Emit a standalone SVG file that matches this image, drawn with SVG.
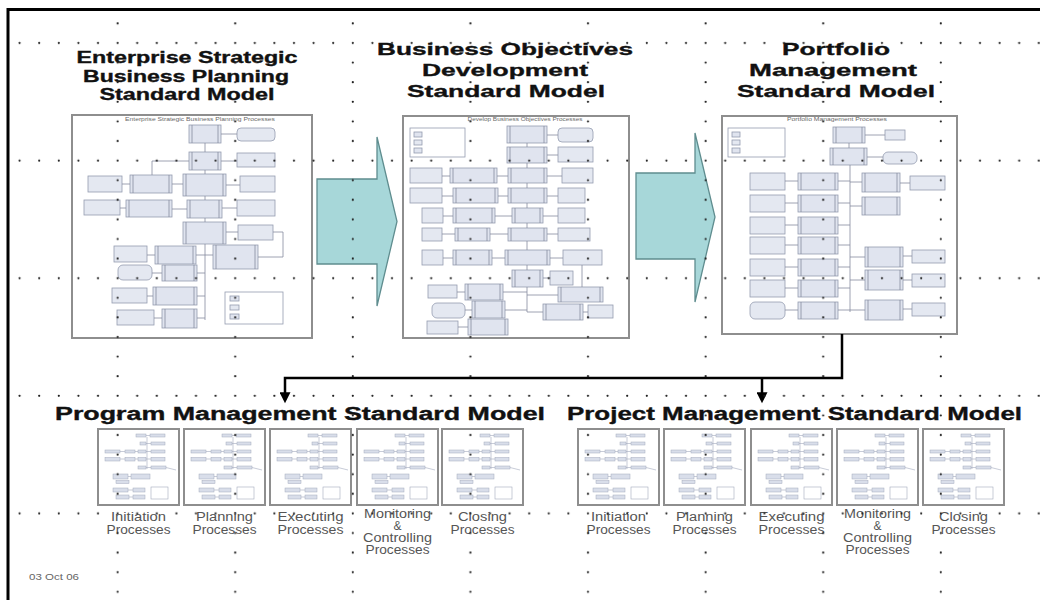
<svg xmlns="http://www.w3.org/2000/svg" xmlns:xlink="http://www.w3.org/1999/xlink" width="1040" height="600" viewBox="0 0 1040 600">
  <defs>
    <style>
      .ttl { font-family: "Liberation Sans", Arial, Helvetica, sans-serif; font-weight: bold; fill: #111; stroke: #111; stroke-width: 0.35; }
      .mid { text-anchor: middle; }
      .lbl { font-family: "Liberation Sans", Arial, Helvetica, sans-serif; font-size: 12px; fill: #555; text-anchor: middle; }
      .cap { font-family: "Liberation Sans", Arial, Helvetica, sans-serif; font-size: 4.6px; fill: #6a6a6a; text-anchor: middle; }
      .date { font-family: "Liberation Sans", Arial, Helvetica, sans-serif; font-size: 9px; fill: #666; }
      .page { fill: #fff; stroke: #8e8e8e; stroke-width: 2; }
      .pr { fill: #e0e4ef; stroke: #949cb0; stroke-width: 0.8; }
      .dt { fill: #e4e8f1; stroke: #949cb0; stroke-width: 0.8; }
      .ln { fill: none; stroke: #858c9e; stroke-width: 0.8; }
      .mp { fill: #d9deea; stroke: #a3aabd; stroke-width: 0.5; }
      .ml { fill: none; stroke: #a3aabd; stroke-width: 0.6; }
      .flow { fill: #a7d7d9; stroke: #5f8d8f; stroke-width: 1.3; }
      .conn { fill: none; stroke: #000; stroke-width: 2.5; }
      .frame { fill: none; stroke: #000; stroke-width: 3; }
      .dot { fill: #1c1c1c; }
    </style>

    <marker id="arrowhead" viewBox="0 0 10 10" refX="7" refY="5" markerWidth="13" markerHeight="11" markerUnits="userSpaceOnUse" orient="auto">
      <path d="M0,0 L10,5 L0,10 z" fill="#000"/>
    </marker>

    <!-- dotted guide grid: rows every 117.6 px starting at y=43, columns every 117.6 px -->
    <pattern id="grid" x="-9.8" y="33.2" width="117.6" height="117.6" patternUnits="userSpaceOnUse">
      <circle class="dot" cx="9.8" cy="9.8" r="1.1"/>
      <circle class="dot" cx="29.4" cy="9.8" r="1.1"/>
      <circle class="dot" cx="49" cy="9.8" r="1.1"/>
      <circle class="dot" cx="68.6" cy="9.8" r="1.1"/>
      <circle class="dot" cx="88.2" cy="9.8" r="1.1"/>
      <circle class="dot" cx="107.8" cy="9.8" r="1.1"/>
      <circle class="dot" cx="9.8" cy="29.4" r="1.1"/>
      <circle class="dot" cx="9.8" cy="49" r="1.1"/>
      <circle class="dot" cx="9.8" cy="68.6" r="1.1"/>
      <circle class="dot" cx="9.8" cy="88.2" r="1.1"/>
      <circle class="dot" cx="9.8" cy="107.8" r="1.1"/>
    </pattern>

    <!-- miniature process-group page used in the lower rows -->
    <symbol id="mini" viewBox="0 0 81 76">
      <g class="mp">
        <rect x="38" y="5" width="10" height="3"/>
        <rect x="52" y="5" width="15" height="3"/>
        <rect x="42" y="13" width="6" height="3"/>
        <rect x="53" y="13" width="14" height="3"/>
        <rect x="7" y="21" width="15" height="3"/>
        <rect x="27" y="21" width="10" height="3"/>
        <rect x="40" y="21" width="8" height="3"/>
        <rect x="53" y="21" width="14" height="3"/>
        <rect x="7" y="28.5" width="15" height="3.5"/>
        <rect x="27" y="28.5" width="10" height="3.5"/>
        <rect x="40" y="28.5" width="8" height="3.5"/>
        <rect x="53" y="28.5" width="14" height="3.5"/>
        <rect x="40" y="37" width="8" height="3"/>
        <rect x="53" y="37" width="15" height="3"/>
        <rect x="15" y="45" width="15" height="5"/>
        <rect x="33" y="45" width="19" height="5"/>
        <rect x="18" y="51.5" width="13" height="3"/>
        <rect x="15" y="59" width="15" height="4"/>
        <rect x="35" y="59" width="12" height="4"/>
        <rect x="18" y="66" width="13" height="4"/>
        <rect x="35" y="66" width="12" height="4"/>
      </g>
      <path class="ml" d="M49,8 V40 M48,6.5 H52 M48,14.5 H53 M22,22.5 H27 M37,22.5 H40 M48,22.5 H53 M22,30 H27 M37,30 H40 M48,30 H53 M48,38.5 H53 M68,38.5 L78,41 M30,47.5 H33 M30,61 H35 M31,68 H35"/>
      <rect x="53" y="58" width="17" height="12" fill="none" stroke="#a3aabd" stroke-width="0.6"/>
    </symbol>
  </defs>

  <rect width="1040" height="600" fill="#fff"/>

  <!-- slide frame -->
  <path class="frame" d="M8,602 V9.5 H1042"/>

  <!-- ===== Enterprise Strategic Business Planning ===== -->
  <g id="enterprise-model">
    <text class="ttl mid" x="187" y="63" font-size="16" textLength="221" lengthAdjust="spacingAndGlyphs">Enterprise Strategic</text>
    <text class="ttl mid" x="186" y="82" font-size="16" textLength="206" lengthAdjust="spacingAndGlyphs">Business Planning</text>
    <text class="ttl mid" x="187" y="100" font-size="16" textLength="175" lengthAdjust="spacingAndGlyphs">Standard Model</text>
    <rect class="page" x="72" y="115" width="240" height="223"/>
    <text class="cap" x="200" y="121" textLength="150" lengthAdjust="spacingAndGlyphs">Enterprise Strategic Business Planning Processes</text>
    <g>
      <rect class="dt" x="237" y="128" width="38" height="13" rx="4"/>
      <rect class="dt" x="237" y="153" width="38" height="14"/>
      <rect class="dt" x="88" y="176" width="34" height="16"/>
      <rect class="dt" x="240" y="176" width="35" height="16"/>
      <rect class="dt" x="84" y="200" width="36" height="15"/>
      <rect class="dt" x="237" y="200" width="38" height="16"/>
      <rect class="dt" x="238" y="225" width="35" height="15"/>
      <rect class="dt" x="114" y="246" width="33" height="16"/>
      <rect class="dt" x="118" y="265" width="34" height="15" rx="5"/>
      <rect class="dt" x="112" y="288" width="35" height="15"/>
      <rect class="dt" x="117" y="310" width="37" height="15"/>
      <rect class="pr" x="189" y="125" width="32" height="18"/>
      <rect class="pr" x="189" y="152" width="32" height="18"/>
      <rect class="pr" x="130" y="175" width="42" height="18"/>
      <rect class="pr" x="183" y="174" width="43" height="22"/>
      <rect class="pr" x="126" y="200" width="46" height="17"/>
      <rect class="pr" x="187" y="200" width="35" height="18"/>
      <rect class="pr" x="183" y="222" width="43" height="22"/>
      <rect class="pr" x="155" y="246" width="41" height="18"/>
      <rect class="pr" x="213" y="245" width="45" height="24"/>
      <rect class="pr" x="162" y="265" width="35" height="16"/>
      <rect class="pr" x="153" y="287" width="44" height="18"/>
      <rect class="pr" x="162" y="309" width="35" height="19"/>
      <path class="ln" d="M192,125 v18 M218,125 v18 M192,152 v18 M218,152 v18 M133,175 v18 M169,175 v18 M186,174 v22 M223,174 v22 M129,200 v17 M169,200 v17 M190,200 v18 M219,200 v18 M186,222 v22 M223,222 v22 M158,246 v18 M193,246 v18 M216,245 v24 M255,245 v24 M165,265 v16 M194,265 v16 M156,287 v18 M194,287 v18 M165,309 v19 M194,309 v19"/>
      <path class="ln" d="M205,143 V152 M205,170 V174 M205,196 V200 M205,218 V222 M205,244 V320 M221,134 H237 M221,161 H237 M189,161 H152 V175 M122,184 H130 M172,184 H183 M226,185 H240 M120,208 H126 M172,209 H187 M222,208 H237 M226,232 H238 M273,232 H283 V257 H258 M147,255 H155 M196,255 H213 M152,273 H162 M197,273 H205 M147,296 H153 M197,296 H205 M154,318 H162 M197,318 H205"/>
      <rect x="225" y="292" width="58" height="32" fill="#fff" stroke="#949cb0" stroke-width="0.8"/>
      <rect class="pr" x="230" y="296" width="9" height="5"/>
      <rect class="dt" x="230" y="305" width="9" height="5"/>
      <rect class="pr" x="230" y="314" width="9" height="5"/>
    </g>
  </g>

  <!-- ===== Business Objectives Development ===== -->
  <g id="objectives-model">
    <text class="ttl mid" x="505" y="55" font-size="17" textLength="256" lengthAdjust="spacingAndGlyphs">Business Objectives</text>
    <text class="ttl mid" x="505" y="76" font-size="17" textLength="166" lengthAdjust="spacingAndGlyphs">Development</text>
    <text class="ttl mid" x="506" y="97" font-size="17" textLength="198" lengthAdjust="spacingAndGlyphs">Standard Model</text>
    <rect class="page" x="403" y="116" width="226" height="222"/>
    <text class="cap" x="525" y="121" textLength="115" lengthAdjust="spacingAndGlyphs">Develop Business Objectives Processes</text>
    <g>
      <rect x="410" y="128" width="55" height="29" fill="#fff" stroke="#949cb0" stroke-width="0.8"/>
      <rect class="pr" x="414" y="132" width="8" height="5"/>
      <rect class="dt" x="414" y="140" width="8" height="5"/>
      <rect class="pr" x="414" y="148" width="8" height="5"/>
      <rect class="dt" x="558" y="128" width="35" height="14" rx="4"/>
      <rect class="dt" x="558" y="147" width="35" height="15"/>
      <rect class="dt" x="410" y="168" width="32" height="15"/>
      <rect class="dt" x="562" y="168" width="31" height="15"/>
      <rect class="dt" x="410" y="188" width="32" height="15"/>
      <rect class="dt" x="558" y="188" width="27" height="15"/>
      <rect class="dt" x="422" y="208" width="21" height="15"/>
      <rect class="dt" x="558" y="208" width="27" height="15"/>
      <rect class="dt" x="422" y="228" width="20" height="13"/>
      <rect class="dt" x="558" y="228" width="32" height="13"/>
      <rect class="dt" x="422" y="250" width="21" height="15"/>
      <rect class="dt" x="563" y="250" width="39" height="15"/>
      <rect class="dt" x="550" y="271" width="23" height="14"/>
      <rect class="dt" x="428" y="285" width="29" height="13"/>
      <rect class="dt" x="432" y="303" width="33" height="15" rx="5"/>
      <rect class="dt" x="588" y="305" width="25" height="13"/>
      <rect class="dt" x="427" y="321" width="31" height="13"/>
      <rect class="pr" x="507" y="126" width="40" height="17"/>
      <rect class="pr" x="507" y="147" width="40" height="16"/>
      <rect class="pr" x="450" y="168" width="47" height="15"/>
      <rect class="pr" x="508" y="168" width="39" height="15"/>
      <rect class="pr" x="453" y="188" width="45" height="15"/>
      <rect class="pr" x="508" y="188" width="39" height="15"/>
      <rect class="pr" x="453" y="208" width="42" height="15"/>
      <rect class="pr" x="512" y="208" width="31" height="15"/>
      <rect class="pr" x="455" y="228" width="35" height="13"/>
      <rect class="pr" x="508" y="228" width="39" height="13"/>
      <rect class="pr" x="453" y="250" width="39" height="15"/>
      <rect class="pr" x="505" y="250" width="45" height="15"/>
      <rect class="pr" x="512" y="270" width="31" height="17"/>
      <rect class="pr" x="465" y="284" width="38" height="16"/>
      <rect class="pr" x="472" y="301" width="33" height="17"/>
      <rect class="pr" x="468" y="319" width="40" height="16"/>
      <rect class="pr" x="558" y="287" width="45" height="15"/>
      <rect class="pr" x="543" y="304" width="40" height="16"/>
      <path class="ln" d="M510,126 v17 M544,126 v17 M510,147 v16 M544,147 v16 M453,168 v15 M494,168 v15 M511,168 v15 M544,168 v15 M456,188 v15 M495,188 v15 M511,188 v15 M544,188 v15 M456,208 v15 M492,208 v15 M515,208 v15 M540,208 v15 M458,228 v13 M487,228 v13 M511,228 v13 M544,228 v13 M456,250 v15 M489,250 v15 M508,250 v15 M547,250 v15 M515,270 v17 M540,270 v17 M468,284 v16 M500,284 v16 M475,301 v17 M502,301 v17 M471,319 v16 M505,319 v16 M561,287 v15 M600,287 v15 M546,304 v16 M580,304 v16"/>
      <path class="ln" d="M527,143 V147 M527,163 V168 M527,183 V188 M527,203 V208 M527,223 V228 M527,241 V250 M527,265 V270 M527,287 V312 M547,135 H558 M547,155 H558 M547,176 H562 M547,196 H558 M543,216 H558 M547,234 H558 M550,258 H563 M543,278 H550 M442,176 H450 M442,196 H453 M443,216 H453 M442,234 H455 M443,258 H453 M497,176 H508 M498,196 H508 M495,216 H512 M490,234 H508 M492,258 H505 M457,292 H465 M465,310 H472 M458,327 H468 M503,292 H527 M505,310 H527 M527,295 H558 M527,312 H543 M583,312 H588 M582,265 V287"/>
    </g>
  </g>

  <!-- ===== Portfolio Management ===== -->
  <g id="portfolio-model">
    <text class="ttl mid" x="836" y="55" font-size="17" textLength="108" lengthAdjust="spacingAndGlyphs">Portfolio</text>
    <text class="ttl mid" x="833" y="76" font-size="17" textLength="168" lengthAdjust="spacingAndGlyphs">Management</text>
    <text class="ttl mid" x="836" y="97" font-size="17" textLength="198" lengthAdjust="spacingAndGlyphs">Standard Model</text>
    <rect class="page" x="722" y="116" width="235" height="218"/>
    <text class="cap" x="837" y="121" textLength="100" lengthAdjust="spacingAndGlyphs">Portfolio Management Processes</text>
    <g>
      <rect x="728" y="128" width="57" height="29" fill="#fff" stroke="#949cb0" stroke-width="0.8"/>
      <rect class="pr" x="732" y="132" width="8" height="5"/>
      <rect class="dt" x="732" y="140" width="8" height="5"/>
      <rect class="pr" x="732" y="148" width="8" height="5"/>
      <rect class="dt" x="885" y="130" width="20" height="10"/>
      <rect class="dt" x="883" y="152" width="34" height="12" rx="5"/>
      <rect class="dt" x="750" y="173" width="35" height="17"/>
      <rect class="dt" x="750" y="195" width="35" height="17"/>
      <rect class="dt" x="750" y="217" width="35" height="17"/>
      <rect class="dt" x="750" y="237" width="35" height="17"/>
      <rect class="dt" x="750" y="259" width="35" height="17"/>
      <rect class="dt" x="750" y="280" width="35" height="17"/>
      <rect class="dt" x="750" y="302" width="35" height="17" rx="5"/>
      <rect class="dt" x="910" y="176" width="35" height="14"/>
      <rect class="dt" x="912" y="250" width="33" height="13"/>
      <rect class="dt" x="912" y="274" width="33" height="13"/>
      <rect class="dt" x="912" y="303" width="33" height="13"/>
      <rect class="pr" x="833" y="127" width="32" height="16"/>
      <rect class="pr" x="830" y="148" width="37" height="17"/>
      <rect class="pr" x="798" y="173" width="40" height="17"/>
      <rect class="pr" x="798" y="195" width="40" height="17"/>
      <rect class="pr" x="798" y="217" width="40" height="17"/>
      <rect class="pr" x="798" y="237" width="40" height="17"/>
      <rect class="pr" x="798" y="259" width="40" height="17"/>
      <rect class="pr" x="798" y="280" width="40" height="17"/>
      <rect class="pr" x="798" y="302" width="40" height="17"/>
      <rect class="pr" x="862" y="173" width="38" height="19"/>
      <rect class="pr" x="862" y="197" width="38" height="18"/>
      <rect class="pr" x="865" y="247" width="38" height="20"/>
      <rect class="pr" x="865" y="270" width="38" height="20"/>
      <rect class="pr" x="865" y="300" width="38" height="20"/>
      <path class="ln" d="M836,127 v16 M862,127 v16 M833,148 v17 M864,148 v17 M801,173 v17 M835,173 v17 M801,195 v17 M835,195 v17 M801,217 v17 M835,217 v17 M801,237 v17 M835,237 v17 M801,259 v17 M835,259 v17 M801,280 v17 M835,280 v17 M801,302 v17 M835,302 v17 M865,173 v19 M897,173 v19 M865,197 v18 M897,197 v18 M868,247 v20 M900,247 v20 M868,270 v20 M900,270 v20 M868,300 v20 M900,300 v20"/>
      <path class="ln" d="M849,143 V148 M850,165 V312 M865,135 H885 M867,157 H883 M785,181 H798 M785,203 H798 M785,225 H798 M785,245 H798 M785,267 H798 M785,288 H798 M785,310 H798 M838,181 H850 M838,203 H850 M838,225 H850 M838,245 H850 M838,267 H850 M838,288 H850 M838,310 H850 M850,182 H862 M850,206 H862 M850,257 H865 M850,280 H865 M850,310 H865 M900,183 H910 M903,256 H912 M903,280 H912 M903,309 H912"/>
    </g>
  </g>

  <!-- ===== flow arrows between the upper models ===== -->
  <g id="flow-arrow-1">
    <polygon class="flow" points="317,179 377,179 377,137 397,221.5 377,306 377,264 317,264"/>
  </g>
  <g id="flow-arrow-2">
    <polygon class="flow" points="636,173 695,173 695,133 715,217 695,302 695,259 636,259"/>
  </g>

  <!-- ===== Program Management ===== -->
  <g id="program-model">
    <text class="ttl" x="55" y="420" font-size="18" textLength="490" lengthAdjust="spacingAndGlyphs">Program Management Standard Model</text>
    <g id="program-initiation">
      <rect class="page" x="98" y="429" width="81" height="76" stroke-width="1.6"/>
      <use xlink:href="#mini" x="98" y="429" width="81" height="76"/>
      <text class="lbl" x="138.5" y="521" textLength="55" lengthAdjust="spacingAndGlyphs">Initiation</text>
      <text class="lbl" x="138.5" y="534" textLength="64" lengthAdjust="spacingAndGlyphs">Processes</text>
    </g>
    <g id="program-planning">
      <rect class="page" x="184" y="429" width="81" height="76" stroke-width="1.6"/>
      <use xlink:href="#mini" x="184" y="429" width="81" height="76"/>
      <text class="lbl" x="224.5" y="521" textLength="57" lengthAdjust="spacingAndGlyphs">Planning</text>
      <text class="lbl" x="224.5" y="534" textLength="64" lengthAdjust="spacingAndGlyphs">Processes</text>
    </g>
    <g id="program-executing">
      <rect class="page" x="270" y="429" width="81" height="76" stroke-width="1.6"/>
      <use xlink:href="#mini" x="270" y="429" width="81" height="76"/>
      <text class="lbl" x="310.5" y="521" textLength="66" lengthAdjust="spacingAndGlyphs">Executing</text>
      <text class="lbl" x="310.5" y="534" textLength="66" lengthAdjust="spacingAndGlyphs">Processes</text>
    </g>
    <g id="program-monitoring">
      <rect class="page" x="357" y="429" width="81" height="76" stroke-width="1.6"/>
      <use xlink:href="#mini" x="357" y="429" width="81" height="76"/>
      <text class="lbl" x="397.5" y="518" textLength="67" lengthAdjust="spacingAndGlyphs">Monitoring</text>
      <text class="lbl" x="397.5" y="530">&amp;</text>
      <text class="lbl" x="397.5" y="542" textLength="69" lengthAdjust="spacingAndGlyphs">Controlling</text>
      <text class="lbl" x="397.5" y="554" textLength="64" lengthAdjust="spacingAndGlyphs">Processes</text>
    </g>
    <g id="program-closing">
      <rect class="page" x="442" y="429" width="81" height="76" stroke-width="1.6"/>
      <use xlink:href="#mini" x="442" y="429" width="81" height="76"/>
      <text class="lbl" x="482.5" y="521" textLength="49" lengthAdjust="spacingAndGlyphs">Closing</text>
      <text class="lbl" x="482.5" y="534" textLength="64" lengthAdjust="spacingAndGlyphs">Processes</text>
    </g>
  </g>

  <!-- ===== Project Management ===== -->
  <g id="project-model">
    <text class="ttl" x="567" y="420" font-size="18" textLength="455" lengthAdjust="spacingAndGlyphs">Project Management Standard Model</text>
    <g id="project-initiation">
      <rect class="page" x="578" y="429" width="81" height="76" stroke-width="1.6"/>
      <use xlink:href="#mini" x="578" y="429" width="81" height="76"/>
      <text class="lbl" x="618.5" y="521" textLength="55" lengthAdjust="spacingAndGlyphs">Initiation</text>
      <text class="lbl" x="618.5" y="534" textLength="64" lengthAdjust="spacingAndGlyphs">Processes</text>
    </g>
    <g id="project-planning">
      <rect class="page" x="664" y="429" width="81" height="76" stroke-width="1.6"/>
      <use xlink:href="#mini" x="664" y="429" width="81" height="76"/>
      <text class="lbl" x="704.5" y="521" textLength="57" lengthAdjust="spacingAndGlyphs">Planning</text>
      <text class="lbl" x="704.5" y="534" textLength="64" lengthAdjust="spacingAndGlyphs">Processes</text>
    </g>
    <g id="project-executing">
      <rect class="page" x="751" y="429" width="81" height="76" stroke-width="1.6"/>
      <use xlink:href="#mini" x="751" y="429" width="81" height="76"/>
      <text class="lbl" x="791.5" y="521" textLength="66" lengthAdjust="spacingAndGlyphs">Executing</text>
      <text class="lbl" x="791.5" y="534" textLength="66" lengthAdjust="spacingAndGlyphs">Processes</text>
    </g>
    <g id="project-monitoring">
      <rect class="page" x="837" y="429" width="81" height="76" stroke-width="1.6"/>
      <use xlink:href="#mini" x="837" y="429" width="81" height="76"/>
      <text class="lbl" x="877.5" y="518" textLength="67" lengthAdjust="spacingAndGlyphs">Monitoring</text>
      <text class="lbl" x="877.5" y="530">&amp;</text>
      <text class="lbl" x="877.5" y="542" textLength="69" lengthAdjust="spacingAndGlyphs">Controlling</text>
      <text class="lbl" x="877.5" y="554" textLength="64" lengthAdjust="spacingAndGlyphs">Processes</text>
    </g>
    <g id="project-closing">
      <rect class="page" x="923" y="429" width="81" height="76" stroke-width="1.6"/>
      <use xlink:href="#mini" x="923" y="429" width="81" height="76"/>
      <text class="lbl" x="963.5" y="521" textLength="49" lengthAdjust="spacingAndGlyphs">Closing</text>
      <text class="lbl" x="963.5" y="534" textLength="64" lengthAdjust="spacingAndGlyphs">Processes</text>
    </g>
  </g>

  <!-- ===== connectors from the portfolio model down to program and project ===== -->
  <g id="connectors">
    <path class="conn" d="M842,334 V378 H285 V400" marker-end="url(#arrowhead)"/>
    <path class="conn" d="M762,378 V400" marker-end="url(#arrowhead)"/>
  </g>

  <g id="footer">
    <text class="date" x="29" y="580" textLength="50" lengthAdjust="spacingAndGlyphs">03 Oct 06</text>
  </g>

  <!-- guide dots lie over everything -->
  <rect id="guide-grid" x="11" y="12" width="1029" height="588" fill="url(#grid)" pointer-events="none"/>
</svg>
